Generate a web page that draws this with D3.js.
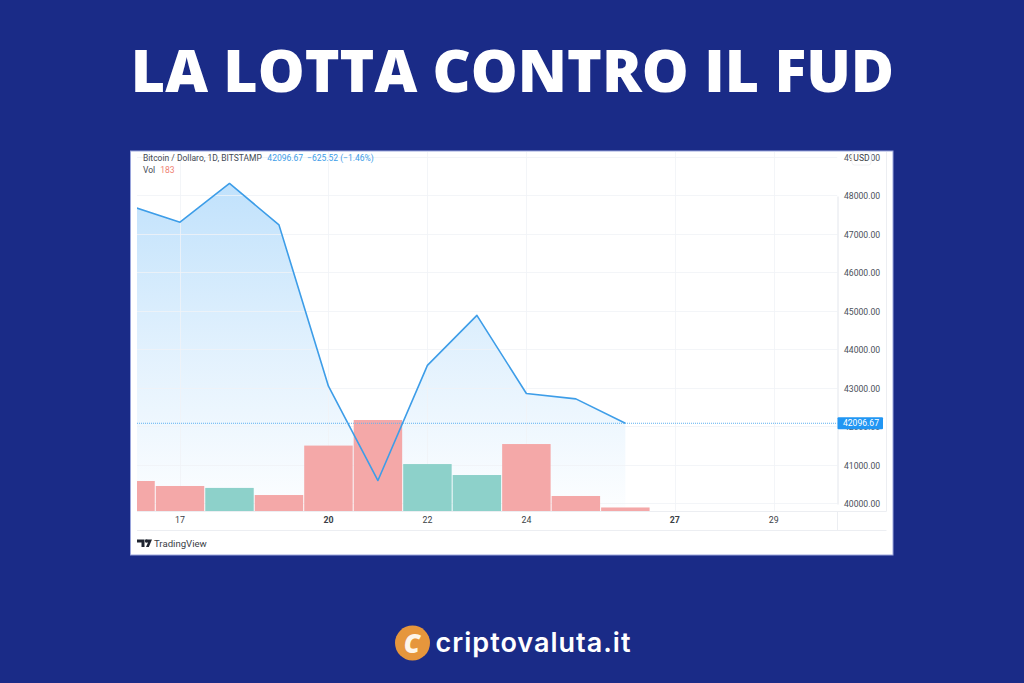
<!DOCTYPE html>
<html>
<head>
<meta charset="utf-8">
<script src="https://cdn.jsdelivr.net/npm/d3@7"></script>
<style>
  html, body { margin: 0; padding: 0; background: #1a2b87; }
  svg { display: block; }
</style>
</head>
<body>
<div id="chart"></div>
<script>
"use strict";

// values
const days = [16, 17, 18, 19, 20, 21, 22, 23, 24, 25, 26];
const closes = [47740, 47320, 48325, 47250, 43060, 40610, 43600, 44900, 42870, 42730, 42096.67];
const volumes = [1560, 1300, 1200, 830, 3400, 4730, 2440, 1870, 3480, 780, 183];
const volumeUp = [false, false, true, false, false, false, true, true, false, false, false];
const priceTicks = [40000, 41000, 42000, 43000, 44000, 45000, 46000, 47000, 48000, 49000];
const dayTicks = [17, 20, 22, 24, 27, 29];
const boldDays = [20, 27];
const lastPrice = 42096.67;

const bg = "#1a2b87";
const lineBlue = "#3d9de8";
const font = "Roboto, sans-serif";

const svg = d3
  .select("#chart")
  .append("svg")
  .attr("width", 1024)
  .attr("height", 683);

svg.append("rect").attr("width", 1024).attr("height", 683).attr("fill", bg);

///////////////////////////
// title
///////////////////////////
svg
  .append("text")
  .attr("x", 512.5)
  .attr("y", 91.5)
  .attr("text-anchor", "middle")
  .attr("font-family", "'Open Sans', sans-serif")
  .attr("font-weight", 800)
  .attr("font-size", 59)
  .attr("fill", "#fff")
  .text("LA LOTTA CONTRO IL FUD");

///////////////////////////
// white panel and scales
///////////////////////////
const panel = svg.append("g");
panel
  .append("rect")
  .attr("x", 130.5)
  .attr("y", 151)
  .attr("width", 762.5)
  .attr("height", 404)
  .attr("fill", "#fff")
  .attr("stroke", "#9aa5dc")
  .attr("stroke-width", 1);

const plot = { left: 137, right: 837.5, top: 152, bottom: 511 };

const x = d3.scaleLinear().domain([17, 29]).range([180, 773.8]);
const y = d3.scaleLinear().domain([40000, 48000]).range([504, 196]);
const v = d3.scaleLinear().domain([0, 4730]).range([511, 420]);

const defs = svg.append("defs");
defs
  .append("clipPath")
  .attr("id", "plotClip")
  .append("rect")
  .attr("x", plot.left)
  .attr("y", plot.top)
  .attr("width", plot.right - plot.left)
  .attr("height", plot.bottom - plot.top);

const grad = defs
  .append("linearGradient")
  .attr("id", "areaFill")
  .attr("x1", 0)
  .attr("y1", 0)
  .attr("x2", 0)
  .attr("y2", 1);
grad.append("stop").attr("offset", "0%").attr("stop-color", "#2196f3").attr("stop-opacity", 0.28);
grad.append("stop").attr("offset", "55%").attr("stop-color", "#2196f3").attr("stop-opacity", 0.12);
grad.append("stop").attr("offset", "100%").attr("stop-color", "#2196f3").attr("stop-opacity", 0.01);

///////////////////////////
// area, grid
///////////////////////////
const marks = panel.append("g").attr("clip-path", "url(#plotClip)");

marks
  .append("path")
  .datum(closes)
  .attr("fill", "url(#areaFill)")
  .attr(
    "d",
    d3
      .area()
      .x((d, i) => x(days[i]))
      .y0(plot.bottom)
      .y1((d) => y(d))
  );

const grid = marks.append("g").attr("stroke", "#f0f2f6").attr("stroke-opacity", 0.8).attr("stroke-width", 1);
grid
  .selectAll("line.h")
  .data(priceTicks)
  .enter()
  .append("line")
  .attr("class", "h")
  .attr("x1", plot.left)
  .attr("x2", plot.right)
  .attr("y1", (d) => Math.round(y(d)) - 0.5)
  .attr("y2", (d) => Math.round(y(d)) - 0.5);
grid
  .selectAll("line.v")
  .data(dayTicks)
  .enter()
  .append("line")
  .attr("class", "v")
  .attr("x1", (d) => Math.round(x(d)) + 0.5)
  .attr("x2", (d) => Math.round(x(d)) + 0.5)
  .attr("y1", plot.top)
  .attr("y2", plot.bottom);

///////////////////////////
// volume, line
///////////////////////////
const barWidth = x(18) - x(17);
marks
  .selectAll("rect.vol")
  .data(volumes)
  .enter()
  .append("rect")
  .attr("class", "vol")
  .attr("x", (d, i) => x(days[i]) - barWidth / 2 + 0.5)
  .attr("width", barWidth - 1)
  .attr("y", (d) => v(d))
  .attr("height", (d) => v(0) - v(d))
  .attr("fill", (d, i) => (volumeUp[i] ? "#8dd1ca" : "#f4a8a8"));

marks
  .append("path")
  .datum(closes)
  .attr("fill", "none")
  .attr("stroke", lineBlue)
  .attr("stroke-width", 1.6)
  .attr("stroke-linejoin", "round")
  .attr(
    "d",
    d3
      .line()
      .x((d, i) => x(days[i]))
      .y((d) => y(d))
  );

// last price dotted line
panel
  .append("line")
  .attr("x1", plot.left)
  .attr("x2", plot.right)
  .attr("y1", y(lastPrice))
  .attr("y2", y(lastPrice))
  .attr("stroke", "#5fb2f0")
  .attr("stroke-width", 1)
  .attr("stroke-dasharray", "1 1");

///////////////////////////
// axes
///////////////////////////
const yAxis = panel
  .append("g")
  .attr("transform", `translate(${plot.right}, 0)`)
  .call(
    d3
      .axisRight(y)
      .tickValues(priceTicks)
      .tickSize(0)
      .tickPadding(6.5)
      .tickFormat((d) => d.toFixed(2))
  );
yAxis.select(".domain").attr("stroke", "#e3e6ec");
yAxis
  .selectAll("text")
  .attr("font-family", font)
  .attr("font-size", 8.6)
  .attr("fill", "#4a4f58");

const xAxis = panel
  .append("g")
  .attr("transform", `translate(-0.5, ${plot.bottom})`)
  .call(d3.axisBottom(x).tickValues(dayTicks).tickSize(0).tickPadding(6));
xAxis.select(".domain").remove();
xAxis
  .selectAll("text")
  .attr("font-family", font)
  .attr("font-size", 8.8)
  .attr("font-weight", (d) => (boldDays.includes(d) ? 700 : 400))
  .attr("fill", "#3a3e46");

// frame lines of the axis strips
const frame = panel.append("g").attr("stroke", "#eceef2").attr("stroke-width", 1).attr("fill", "none");
frame.append("path").attr("d", `M${plot.left},${plot.bottom}.5H886.5V152`);
frame.append("path").attr("d", `M${plot.left},530.5H886.5`);
frame.append("path").attr("d", `M${plot.right},${plot.bottom}V530`);

// USD badge covers the top tick
panel
  .append("rect")
  .attr("x", 852)
  .attr("y", 152)
  .attr("width", 19)
  .attr("height", 13)
  .attr("rx", 2.5)
  .attr("fill", "#fff")
  .attr("stroke", "#f0f1f4");
panel
  .append("text")
  .attr("x", 861.5)
  .attr("y", 161)
  .attr("text-anchor", "middle")
  .attr("font-family", font)
  .attr("font-size", 8.6)
  .attr("fill", "#3a3e46")
  .text("USD");

// last price badge
panel
  .append("rect")
  .attr("x", 837.5)
  .attr("y", y(lastPrice) - 6)
  .attr("width", 45.5)
  .attr("height", 12)
  .attr("rx", 1)
  .attr("fill", "#2196f3");
panel
  .append("text")
  .attr("x", 861)
  .attr("y", y(lastPrice) + 3.1)
  .attr("text-anchor", "middle")
  .attr("font-family", font)
  .attr("font-size", 8.6)
  .attr("fill", "#fff")
  .text(lastPrice.toFixed(2));

///////////////////////////
// legend text
///////////////////////////
const legendTop = panel
  .append("text")
  .attr("x", 143)
  .attr("y", 161)
  .attr("font-family", font)
  .attr("font-size", 8.5);
legendTop.append("tspan").attr("fill", "#444a54").text("Bitcoin / Dollaro, 1D, BITSTAMP");
legendTop.append("tspan").attr("dx", 5.5).attr("fill", "#3d9de8").text("42096.67");
legendTop.append("tspan").attr("dx", 4).attr("fill", "#3d9de8").text("\u2212625.52 (\u22121.46%)");

const legendVol = panel
  .append("text")
  .attr("x", 143)
  .attr("y", 173)
  .attr("font-family", font)
  .attr("font-size", 8.5);
legendVol.append("tspan").attr("fill", "#444a54").text("Vol");
legendVol.append("tspan").attr("dx", 5).attr("fill", "#ef7f72").text("183");

///////////////////////////
// TradingView mark
///////////////////////////
panel
  .append("path")
  .attr("fill", "#1f2430")
  .attr("d", "M137,539.5h7.5v7.5h-3v-4.5h-4.5z M145.5,539.5h6.5l-3.2,7.5h-2.8l2-4.6h-2.5z");
panel
  .append("circle")
  .attr("cx", 146.3)
  .attr("cy", 541)
  .attr("r", 1.4)
  .attr("fill", "#1f2430");
panel
  .append("text")
  .attr("x", 154)
  .attr("y", 546.5)
  .attr("font-family", font)
  .attr("font-size", 9.6)
  .attr("fill", "#3a3e46")
  .text("TradingView");

///////////////////////////
// site logo
///////////////////////////
svg
  .append("circle")
  .attr("cx", 412.5)
  .attr("cy", 643)
  .attr("r", 17.5)
  .attr("fill", "#e6963c");
svg
  .append("text")
  .attr("x", 412)
  .attr("y", 652.5)
  .attr("text-anchor", "middle")
  .attr("font-family", "'Open Sans', sans-serif")
  .attr("font-weight", 800)
  .attr("font-style", "italic")
  .attr("font-size", 26)
  .attr("fill", "#fdf5ea")
  .text("C");
svg
  .append("text")
  .attr("x", 435.5)
  .attr("y", 652)
  .attr("font-family", "Inter, sans-serif")
  .attr("font-weight", 600)
  .attr("font-size", 27)
  .attr("letter-spacing", 1)
  .attr("fill", "#fff")
  .text("criptovaluta.it");
</script>
</body>
</html>
